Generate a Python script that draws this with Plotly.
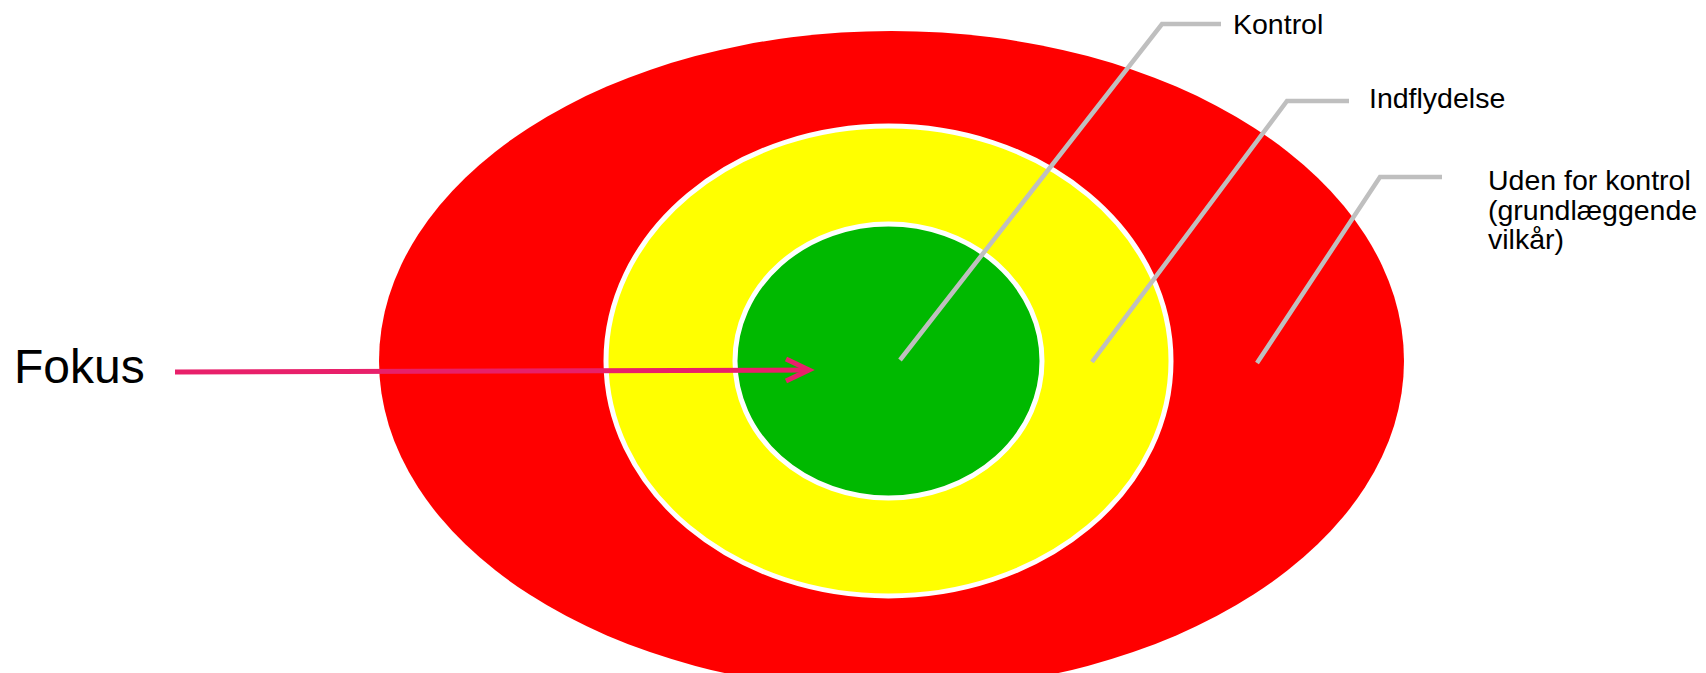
import plotly.graph_objects as go

W, H = 1706, 673

# Rings (outer -> inner): name, centre, radii, colour, outline
ring_names = ["Uden for kontrol", "Indflydelse", "Kontrol"]
ring_cx = [891.5, 888.5, 888.5]
ring_cy = [361, 361, 361]
ring_rx = [512.5, 282.5, 153.5]
ring_ry = [330, 235, 137]
ring_colors = ["#FF0000", "#FFFF00", "#00B900"]
ring_outline = [0, 5, 5]

# Leader lines: anchor inside ring -> elbow -> end of horizontal
leader_x = [[900, 1162, 1221], [1092, 1287, 1349], [1257, 1380, 1442]]
leader_y = [[360, 24, 24], [362, 101, 101], [363, 177, 177]]

# Labels
label_lines = [["Kontrol"], ["Indflydelse"], ["Uden for kontrol", "(grundlæggende", "vilkår)"]]
label_x = [1231, 1367, 1486]
label_y = [24, 98, 180]
label_spacing = 29.5

# Focus arrow
focus_text = "Fokus"
focus_text_pos = (12, 366)
arrow_x = [175, 809]
arrow_y = [372, 370]

fig = go.Figure()
shapes = []
for cx, cy, rx, ry, col, ow in zip(ring_cx, ring_cy, ring_rx, ring_ry, ring_colors, ring_outline):
    shapes.append(dict(type="circle", xref="x", yref="y",
                       x0=cx - rx, x1=cx + rx, y0=cy - ry, y1=cy + ry,
                       fillcolor=col,
                       line=dict(color="white", width=ow if ow else 0),
                       layer="below"))

for xs, ys in zip(leader_x, leader_y):
    path = "M " + " L ".join(f"{x},{y}" for x, y in zip(xs, ys))
    shapes.append(dict(type="path", xref="x", yref="y", path=path,
                       line=dict(color="#BFBFBF", width=4.5), layer="above"))

pink = "#E8206A"
shapes.append(dict(type="line", xref="x", yref="y",
                   x0=arrow_x[0], y0=arrow_y[0], x1=arrow_x[1], y1=arrow_y[1],
                   line=dict(color=pink, width=5), layer="above"))
tipx, tipy = arrow_x[1], arrow_y[1]
head = f"M {tipx-23},{tipy-11} L {tipx},{tipy} L {tipx-23},{tipy+11}"
shapes.append(dict(type="path", xref="x", yref="y", path=head,
                   line=dict(color=pink, width=5), layer="above"))

annotations = []
for lines, lx, ly in zip(label_lines, label_x, label_y):
    for i, t in enumerate(lines):
        annotations.append(dict(x=lx, y=ly + i * label_spacing, xref="x", yref="y",
                                text=t, showarrow=False, xanchor="left", yanchor="middle",
                                font=dict(family="Liberation Sans, Arial", size=28.5, color="black")))
annotations.append(dict(x=focus_text_pos[0], y=focus_text_pos[1], xref="x", yref="y",
                        text=focus_text, showarrow=False, xanchor="left", yanchor="middle",
                        font=dict(family="Liberation Sans, Arial", size=48, color="black")))

fig.update_layout(
    width=W, height=H,
    margin=dict(l=0, r=0, t=0, b=0),
    paper_bgcolor="white", plot_bgcolor="white",
    xaxis=dict(range=[0, W], visible=False, fixedrange=True),
    yaxis=dict(range=[H, 0], visible=False, fixedrange=True),
    shapes=shapes, annotations=annotations, showlegend=False,
)
fig.write_html("out.html", config={"displayModeBar": False})
